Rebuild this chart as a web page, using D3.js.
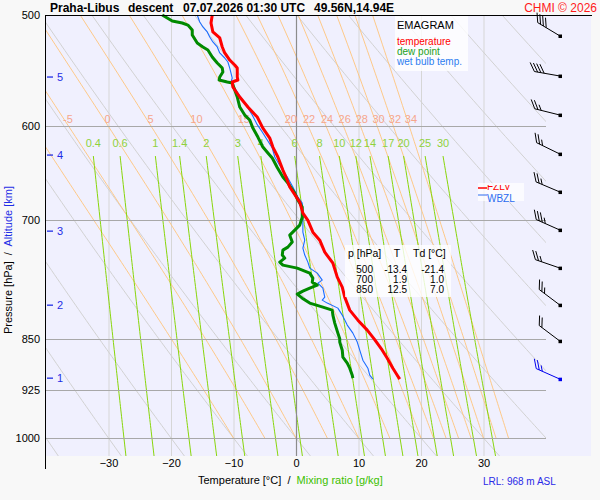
<!DOCTYPE html>
<html>
<head>
<meta charset="utf-8">
<script src="https://cdn.jsdelivr.net/npm/d3@7"></script>
<style>
body { margin: 0; background: #f8f8f8; }
svg { display: block; font-family: "Liberation Sans", Arial, sans-serif; }
</style>
</head>
<body>
<svg id="chart" width="600" height="500"></svg>
<script>
// Temperature profile (pressure hPa / degC)
var tempP = [500, 506.6, 514.1, 519.2, 526.9, 532.1, 538.3, 542.7, 545.4, 553.5, 556.2, 558.0, 562.6, 571.9, 581.4, 591.0, 601.8, 611.7, 620.8, 631.0, 644.6, 652.1, 662.8, 679.4, 691.8, 700, 713.7, 723.1, 737.5, 750.9, 768.3, 781.0, 793.9, 811.0, 824.4, 838.0, 850, 866.0, 877.4, 891.9, 902.2, 908.1];
var tempT = [-13.4, -13.6, -13.3, -12.2, -11.8, -11.4, -10.6, -9.8, -9.4, -9.4, -9.3, -10.2, -10.1, -9.0, -7.7, -6.2, -5.3, -4.2, -3.7, -2.9, -2.1, -1.6, -1.0, 0.6, 1.1, 1.9, 2.7, 3.8, 4.6, 5.9, 6.6, 7.4, 7.8, 8.6, 9.9, 11.4, 12.5, 13.8, 14.6, 15.5, 16.2, 16.6];

// Dew point profile
var dewP = [500, 502.5, 504.9, 506.6, 508.3, 512.4, 516.7, 523.5, 526.9, 529.5, 535.6, 540.9, 545.4, 549.0, 553.5, 556.2, 558.0, 558.9, 565.4, 571.9, 581.4, 589.1, 593.9, 601.8, 610.7, 620.8, 626.9, 632.1, 642.0, 652.1, 658.5, 669.4, 677.2, 684.9, 696.3, 705.5, 711.3, 717.2, 725.4, 731.4, 735.0, 741.0, 744.7, 749.6, 753.3, 757.0, 763.2, 769.5, 774.6, 778.4, 782.2, 786.1, 790.0, 795.2, 801.7, 807.0, 811.0, 817.6, 828.4, 842.1, 850, 854.6, 866.0, 876.0, 884.6, 891.9, 902.2, 906.6];
var dewT = [-21.4, -20.6, -19.8, -18.2, -17.3, -16.6, -16.6, -15.8, -14.9, -14.1, -13.4, -12.6, -11.8, -11.7, -12.2, -12.3, -11.0, -10.2, -9.8, -9.4, -9.0, -8.2, -7.4, -6.9, -6.1, -5.3, -4.5, -3.8, -3.0, -2.1, -1.3, -0.2, 0.3, 1.0, 1.0, 0.6, -0.2, -1.0, -0.6, -1.3, -2.1, -2.2, -1.8, -2.6, -2.1, 0.2, 2.2, 2.7, 2.6, 3.4, 2.2, 1.1, 0.2, 1.0, 2.2, 4.3, 5.8, 5.9, 6.2, 6.7, 7.0, 7.0, 7.4, 7.5, 8.2, 8.6, 9.0, 9.1];

// Wet bulb temperature profile
var wetP = [500, 505.8, 509.9, 514.1, 518.4, 522.6, 526.9, 532.1, 536.5, 540.0, 545.4, 554.4, 558.0, 560.8, 568.2, 577.6, 589.1, 598.4, 605.7, 613.7, 621.8, 631.0, 642.0, 653.2, 662.8, 673.9, 680.5, 691.8, 703.2, 713.7, 723.1, 732.6, 741.0, 749.6, 757.0, 763.2, 772.0, 775.8, 782.2, 793.9, 797.8, 801.7, 808.3, 817.6, 831.1, 842.1, 854.6, 866.0, 880.3, 891.9, 902.2, 908.1];
var wetT = [-15.8, -15.4, -14.9, -14.2, -13.8, -13.3, -12.6, -12.2, -11.4, -10.9, -10.6, -10.2, -10.4, -10.1, -9.3, -8.2, -7.0, -6.2, -5.4, -4.6, -3.8, -3.4, -2.4, -1.3, -0.5, 0.3, 1.0, 1.1, 1.1, 1.1, 1.4, 1.1, 1.4, 1.9, 2.2, 3.4, 4.2, 3.5, 4.3, 4.6, 4.2, 5.0, 6.7, 7.4, 8.2, 9.1, 9.8, 10.2, 10.7, 11.5, 11.8, 12.3];

// Axis ticks and diagram line families
var pressureTicks = [500, 600, 700, 850, 925, 1000];
var tempTicks = [-30, -20, -10, 0, 10, 20, 30];
var altKm = [5, 4, 3, 2, 1];
var altP = [553.5, 629.0, 712.5, 804.4, 906.6];
var mixRatios = [0.4, 0.6, 1, 1.4, 2, 3, 4, 6, 8, 10, 12, 14, 17, 20, 25, 30];
var wetAdiabats = [-10, -5, 0, 5, 10, 15, 20, 22, 24, 26, 28, 30, 32, 34];
var dryAdiabats = [-50, -40, -30, -20, -10, 0, 10, 20, 30, 40, 50, 60, 70, 80, 90, 100, 110, 120];

// Wind barbs (pressure, direction deg, speed kt)
var windP = [517.5, 552.6, 589.1, 628.0, 668.3, 711.3, 757.0, 804.4, 853.3, 908.1];
var windDir = [301, 280, 284, 296, 293, 294, 289, 307, 307, 294];
var windSpd = [40, 40, 25, 25, 25, 35, 25, 25, 20, 25];

// Table of standard levels
var tableP = [500, 700, 850];
var tableT = ['-13.4', '1.9', '12.5'];
var tableTd = ['-21.4', '1.0', '7.0'];

var svg = d3.select('#chart');
var x = d3.scaleLinear().domain([-40, 40]).range([46, 546]);
var y = d3.scaleLog().domain([500, 1000]).range([15, 438]);
var pBottom = y.invert(456);

// background
svg.append('rect').attr('width', 600).attr('height', 500).attr('fill', '#f8f8f8');
svg.append('rect').attr('x', 46).attr('y', 15).attr('width', 545).attr('height', 441).attr('fill', '#f0f0fe');

svg.append('clipPath').attr('id', 'plotclip')
    .append('rect').attr('x', 46).attr('y', 15).attr('width', 500).attr('height', 441);

var grid = svg.append('g').attr('clip-path', 'url(#plotclip)');

// isotherms
grid.selectAll('.iso')
    .data(tempTicks.filter(function (d) { return d !== 0; }))
    .enter().append('line')
    .attr('x1', function (d) { return x(d) + 0.5; })
    .attr('x2', function (d) { return x(d) + 0.5; })
    .attr('y1', 15).attr('y2', 456)
    .attr('stroke', '#d6d6d6');

function es(T) { return 6.112 * Math.exp(17.67 * T / (T + 243.5)); }
function thetaE(T, p) {
    var e = es(T), Tk = T + 273.15;
    var r = 0.622 * e / (p - e);
    return Tk * Math.pow(1000 / p, 0.2857) * Math.exp(2.501e6 * r / (1004 * Tk));
}
function moistT(tw, p) {
    var target = thetaE(tw, 1000), lo = -110, hi = 50;
    for (var k = 0; k < 50; k++) {
        var mid = (lo + hi) / 2;
        if (thetaE(mid, p) > target) hi = mid; else lo = mid;
    }
    return (lo + hi) / 2;
}
function mixT(w, p) {
    var e = w * p / (622 + w);
    var l = Math.log(e / 6.112);
    return 243.5 * l / (17.67 - l);
}

var line = d3.line().x(function (d) { return x(d[0]); }).y(function (d) { return y(d[1]); });

// dry adiabats
var pDry = d3.range(500, pBottom + 5, 5);
grid.selectAll('.dry')
    .data(dryAdiabats)
    .enter().append('path')
    .attr('d', function (th) {
        return line(pDry.map(function (p) {
            return [(th + 273.15) * Math.pow(p / 1000, 0.2857) - 273.15, p];
        }));
    })
    .attr('fill', 'none').attr('stroke', '#d2d2d2').attr('stroke-width', 1);

// saturated adiabats
var pMoist = d3.range(500, 1001, 5);
grid.selectAll('.moist')
    .data(wetAdiabats)
    .enter().append('path')
    .attr('d', function (tw) {
        return line(pMoist.map(function (p) { return [moistT(tw, p), p]; }));
    })
    .attr('fill', 'none').attr('stroke', '#ffc47a').attr('stroke-width', 0.9);

// mixing ratio lines
var pMix = d3.range(630, pBottom + 5, 5);
grid.selectAll('.mix')
    .data(mixRatios)
    .enter().append('path')
    .attr('d', function (w) {
        return line(pMix.map(function (p) { return [mixT(w, p), p]; }));
    })
    .attr('fill', 'none').attr('stroke', '#88d60a').attr('stroke-width', 1);

// isobars
grid.selectAll('.isobar')
    .data(pressureTicks)
    .enter().append('line')
    .attr('x1', 46).attr('x2', 546)
    .attr('y1', function (d) { return Math.round(y(d)) + 0.5; })
    .attr('y2', function (d) { return Math.round(y(d)) + 0.5; })
    .attr('stroke', '#a8a8a8').attr('stroke-width', 1.2);

// 0 degC line
grid.append('line')
    .attr('x1', x(0) + 0.5).attr('x2', x(0) + 0.5).attr('y1', 15).attr('y2', 456)
    .attr('stroke', '#8c8c8c').attr('stroke-width', 1.2);

// labels of saturated adiabats
svg.selectAll('.mlab')
    .data(wetAdiabats.filter(function (d) { return x(moistT(d, 593)) > 55; }))
    .enter().append('text')
    .attr('x', function (d) { return x(moistT(d, 593)) + 4; })
    .attr('y', 123)
    .attr('text-anchor', 'middle')
    .attr('font-size', '11px')
    .attr('fill', '#f6a68c')
    .text(function (d) { return d; });

// labels of mixing ratio lines
svg.selectAll('.wlab')
    .data(mixRatios)
    .enter().append('text')
    .attr('x', function (d) { return x(mixT(d, 630)); })
    .attr('y', 147)
    .attr('text-anchor', 'middle')
    .attr('font-size', '11px')
    .attr('fill', '#8fd23c')
    .text(function (d) { return d; });

// profiles
function profile(ps, ts, color, width) {
    svg.append('path')
        .attr('d', line(ps.map(function (p, i) { return [ts[i], p]; })))
        .attr('fill', 'none').attr('stroke', color)
        .attr('stroke-width', width).attr('stroke-linejoin', 'round');
}
profile(wetP, wetT, '#1a6cff', 1.1);
profile(dewP, dewT, '#008a00', 3);
profile(tempP, tempT, '#ff0000', 3);

// altitude ticks
var alt = svg.selectAll('.alt').data(altKm).enter().append('g');
alt.append('line')
    .attr('x1', 47).attr('x2', 53)
    .attr('y1', function (d, i) { return y(altP[i]); })
    .attr('y2', function (d, i) { return y(altP[i]); })
    .attr('stroke', '#1f2ee6').attr('stroke-width', 1.3);
alt.append('text')
    .attr('x', 57).attr('y', function (d, i) { return y(altP[i]) + 4; })
    .attr('font-size', '11px').attr('fill', '#1f2ee6')
    .text(function (d) { return d; });

// axes
var xAxis = svg.append('g')
    .attr('transform', 'translate(0,456)')
    .call(d3.axisBottom(x).tickValues(tempTicks).tickSize(0).tickPadding(3));
xAxis.select('.domain').remove();
xAxis.selectAll('text').attr('font-size', '11px').attr('fill', '#000').attr('font-family', null);

var yAxis = svg.append('g')
    .attr('transform', 'translate(45,0)')
    .call(d3.axisLeft(y).tickValues(pressureTicks).tickFormat(d3.format('d')).tickSize(0).tickPadding(5));
yAxis.select('.domain').remove();
yAxis.selectAll('text').attr('font-size', '11px').attr('fill', '#000').attr('font-family', null);

// frame
svg.append('line').attr('x1', 45.5).attr('x2', 45.5).attr('y1', 15).attr('y2', 469).attr('stroke', '#000');
svg.append('line').attr('x1', 45).attr('x2', 592).attr('y1', 15.5).attr('y2', 15.5).attr('stroke', '#000');

// title
var title = [['Praha-Libus', 50], ['descent', 128], ['07.07.2026 01:30 UTC', 183], ['49.56N,14.94E', 314]];
svg.selectAll('.title').data(title).enter().append('text')
    .attr('x', function (d) { return d[1]; }).attr('y', 12)
    .attr('font-size', '12px').attr('font-weight', 'bold')
    .text(function (d) { return d[0]; });
svg.append('text').attr('x', 597).attr('y', 12).attr('text-anchor', 'end')
    .attr('font-size', '12px').attr('fill', '#ff1a1a').text('CHMI \u00a9 2026');

// axis titles
var yt = svg.append('text').attr('transform', 'translate(12,334) rotate(-90)').attr('font-size', '11px')
    .attr('xml:space', 'preserve');
yt.append('tspan').attr('fill', '#000').text('Pressure [hPa]  /  ');
yt.append('tspan').attr('fill', '#1f2ee6').text('Altitude [km]');

var xt = svg.append('text').attr('x', 198).attr('y', 484).attr('font-size', '11px').attr('xml:space', 'preserve');
xt.append('tspan').attr('fill', '#000').text('Temperature [\u00b0C]  /  ');
xt.append('tspan').attr('fill', '#3cc000').text('Mixing ratio [g/kg]');

svg.append('text').attr('x', 483).attr('y', 485).attr('font-size', '10px')
    .attr('fill', '#2a2ae8').text('LRL: 968 m ASL');

// legend
svg.append('rect').attr('x', 395).attr('y', 16).attr('width', 73).attr('height', 55)
    .attr('fill', '#fff').attr('opacity', 0.8);
svg.append('text').attr('x', 397).attr('y', 29).attr('font-size', '11px').text('EMAGRAM');
var legend = [['temperature', '#ff0000'], ['dew point', '#22a022'], ['wet bulb temp.', '#2c7cf0']];
svg.selectAll('.leg').data(legend).enter().append('text')
    .attr('x', 397).attr('y', function (d, i) { return 45 + i * 10; })
    .attr('font-size', '10px').attr('fill', function (d) { return d[1]; })
    .text(function (d) { return d[0]; });

// freezing / wet bulb zero levels
svg.append('clipPath').attr('id', 'fzclip')
    .append('rect').attr('x', 470).attr('y', 185).attr('width', 60).attr('height', 7);
svg.append('rect').attr('x', 478).attr('y', 183).attr('width', 46).attr('height', 18)
    .attr('fill', '#fff').attr('opacity', 0.7);
svg.append('text').attr('x', 487).attr('y', 190).attr('font-size', '10px')
    .attr('fill', '#ff0000').attr('clip-path', 'url(#fzclip)').text('FZLV');
svg.append('line').attr('x1', 478).attr('x2', 487).attr('y1', 188).attr('y2', 188)
    .attr('stroke', '#ff0000').attr('stroke-width', 1.5);
svg.append('text').attr('x', 487).attr('y', 201.5).attr('font-size', '10px')
    .attr('fill', '#2c6cf0').text('WBZL');
svg.append('line').attr('x1', 478).attr('x2', 487).attr('y1', 195).attr('y2', 195)
    .attr('stroke', '#2c6cf0').attr('stroke-width', 1);

// table
svg.append('rect').attr('x', 345).attr('y', 245).attr('width', 106).attr('height', 52)
    .attr('fill', '#fff').attr('opacity', 0.8);
svg.append('text').attr('x', 348).attr('y', 257).attr('font-size', '10.5px').text('p [hPa]');
svg.append('text').attr('x', 397).attr('y', 257).attr('font-size', '10.5px').attr('text-anchor', 'middle').text('T');
svg.append('text').attr('x', 413).attr('y', 257).attr('font-size', '10.5px').text('Td [\u00b0C]');
tableP.forEach(function (p, i) {
    var ty = 273 + i * 10;
    svg.append('text').attr('x', 373).attr('y', ty).attr('font-size', '10px').attr('text-anchor', 'end').text(p);
    svg.append('text').attr('x', 407).attr('y', ty).attr('font-size', '10px').attr('text-anchor', 'end').text(tableT[i]);
    svg.append('text').attr('x', 444).attr('y', ty).attr('font-size', '10px').attr('text-anchor', 'end').text(tableTd[i]);
});

// wind barbs
var barbs = svg.append('g');
windP.forEach(function (p, i) {
    var color = i === windP.length - 1 ? '#0000ee' : '#000';
    var x0 = 560, y0 = y(p), L = 26;
    var a = windDir[i] * Math.PI / 180;
    var ux = Math.sin(a), uy = -Math.cos(a);
    var nx = -uy, ny = ux;
    var t = 35 * Math.PI / 180;
    var bx = nx * Math.cos(t) + ux * Math.sin(t), by = ny * Math.cos(t) + uy * Math.sin(t);
    barbs.append('line')
        .attr('x1', x0).attr('y1', y0).attr('x2', x0 + ux * L).attr('y2', y0 + uy * L)
        .attr('stroke', color).attr('stroke-width', 1);
    var full = Math.floor(windSpd[i] / 10), half = windSpd[i] % 10 >= 5 ? 1 : 0;
    for (var k = 0; k < full + half; k++) {
        var d = L - k * 3.3, len = k < full ? 10 : 6;
        var sx = x0 + ux * d, sy = y0 + uy * d;
        barbs.append('line')
            .attr('x1', sx).attr('y1', sy).attr('x2', sx + bx * len).attr('y2', sy + by * len)
            .attr('stroke', color).attr('stroke-width', 1);
    }
    barbs.append('rect').attr('x', x0 - 1.5).attr('y', y0 - 1.5).attr('width', 3.5).attr('height', 3.5)
        .attr('fill', color);
});
</script>
</body>
</html>
